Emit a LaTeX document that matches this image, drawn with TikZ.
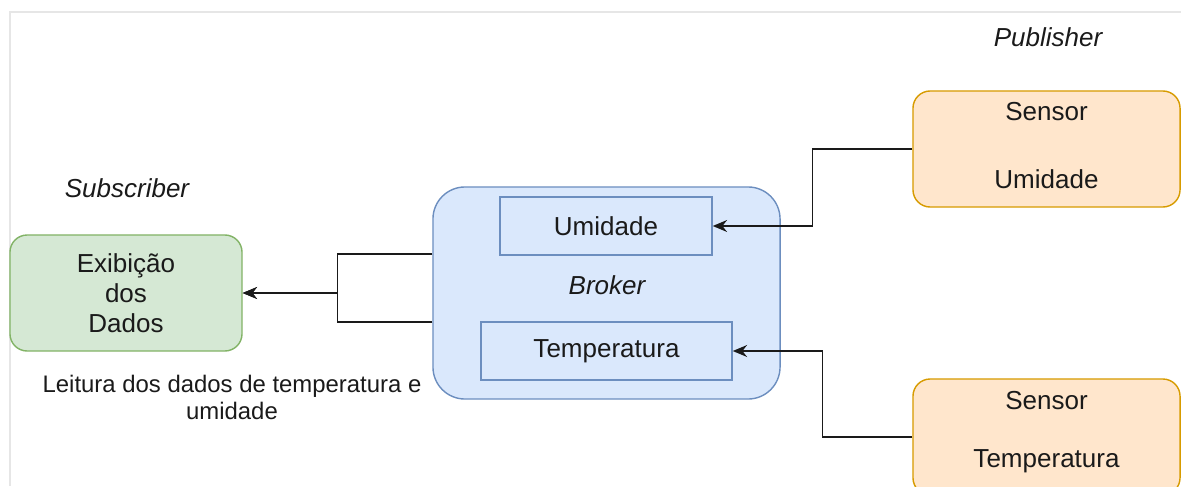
\documentclass[tikz,border=0pt]{standalone}
\usepackage{fontspec}
\setmainfont{Liberation Sans}
\usetikzlibrary{arrows.meta, positioning, calc}
\definecolor{ink}{HTML}{1A1A1A}
\definecolor{framegray}{HTML}{E6E6E6}
\definecolor{subfill}{HTML}{D5E8D4}
\definecolor{subline}{HTML}{82B366}
\definecolor{brkfill}{HTML}{DAE8FC}
\definecolor{brkline}{HTML}{6C8EBF}
\definecolor{pubfill}{HTML}{FFE6CC}
\definecolor{publine}{HTML}{D79B00}
\tikzset{
  box/.style    = {rectangle, line width=1pt, align=center, text=ink, inner sep=0pt,
                   font=\fontsize{18.5}{21.3}\selectfont},
  subbox/.style = {box, draw=subline, fill=subfill, rounded corners=0.43cm,
                   minimum width=5.8cm, minimum height=2.9cm},
  brkbox/.style = {box, draw=brkline, fill=brkfill, rounded corners=0.8cm,
                   minimum width=8.675cm, minimum height=5.3cm},
  topic/.style  = {box, draw=brkline, minimum height=1.45cm},
  pubbox/.style = {box, draw=publine, fill=pubfill, rounded corners=0.43cm,
                   minimum width=6.675cm, minimum height=2.9cm},
  pubtext/.style= {align=center, text=ink, inner sep=0pt, font=\fontsize{18.5}{21.3}\selectfont},
  role/.style   = {font=\fontsize{18.5}{21.3}\selectfont\itshape, text=ink},
  note/.style   = {font=\fontsize{17}{19.2}\selectfont, text=ink, align=center},
  flow/.style   = {-{Stealth[length=3.6mm, width=3mm, inset=1.2mm]}, draw=ink, line width=1pt},
}

\begin{document}
\begin{tikzpicture}[x=0.025cm, y=-0.025cm]
  \useasboundingbox (0,0) rectangle (1181,486);
  \clip (0,0) rectangle (1181,486);
  \draw[framegray, line width=1.2pt] (1181,12) -- (10,12) -- (10,486);

  % subscriber side
  \node[subbox] (exib) at (126,293) {Exibição\\dos\\Dados};
  \node[role] (sub) at (127,188) {Subscriber};
  \node[note] (leit) at (232,397) {Leitura dos dados de temperatura e\\umidade};

  % broker with its two topics
  \node[brkbox] (broker) at (606.5,293) {};
  \node[topic, minimum width=5.3cm] (umid) at (606,226) {Umidade};
  \node[topic, minimum width=6.275cm] (temp) at (606.5,351) {Temperatura};
  \node[role] (brk) at (607,285) {Broker};

  % publishers (text set on its own so it sits a bit high in the box)
  \node[role] (pub) at (1048,37) {Publisher};
  \node[pubbox] (sensU) at (1046.5,149) {};
  \node[pubtext] (sensUtxt) at (1046.5,146) {Sensor\\[27pt]Umidade};
  \node[pubbox] (sensT) at (1046.5,437) {};
  \node[pubtext] (sensTtxt) at (1046.5,432) {Sensor\\[20pt]Temperatura};

  \coordinate (bo1) at ($(broker.west)+(0,-39)$);
  \coordinate (bo2) at ($(broker.west)+(0,29)$);

  \draw[flow] (bo1) -| ($(bo1)!.5!(exib.east)$) |- (exib.east);
  \draw[flow] (bo2) -| ($(bo2)!.5!(exib.east)$) |- (exib.east);
  \draw[flow] (sensU.west) -| ($(sensU.west)!.5!(umid.east)$) |- (umid.east);
  \draw[flow] (sensT.west) -| ($(sensT.west)!.5!(temp.east)$) |- (temp.east);
\end{tikzpicture}
\end{document}
